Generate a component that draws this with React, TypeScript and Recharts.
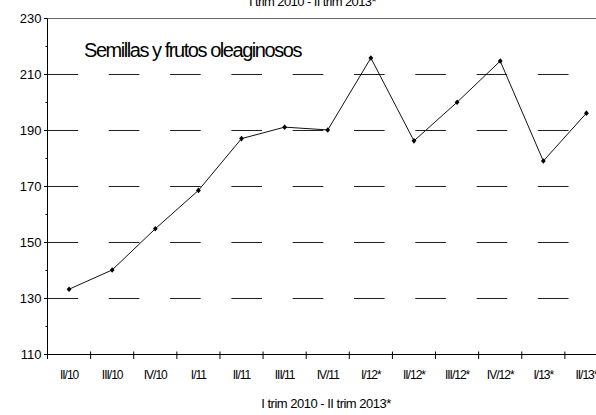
import React from 'react';
import { LineChart, Line, XAxis, YAxis, CartesianGrid, ReferenceLine, Customized } from 'recharts';

const categories = ['II/10', 'III/10', 'IV/10', 'I/11', 'II/11', 'III/11', 'IV/11', 'I/12*', 'II/12*', 'III/12*', 'IV/12*', 'I/13*', 'II/13*'];
const values = [133.3, 140.2, 154.9, 168.6, 187.1, 191.2, 190.2, 215.9, 186.3, 200.1, 214.8, 179.1, 196.2];
const yTicks = [110, 120, 130, 140, 150, 160, 170, 180, 190, 200, 210, 220, 230];
const yLabelTicks = [110, 130, 150, 170, 190, 210, 230];
const gridValues = [130, 150, 170, 190, 210, 230];
const seriesName = 'Semillas y frutos oleaginosos';
const periodTitle = 'I trim 2010 - II trim 2013*';

const data = categories.map((c, i) => ({ cat: c, value: values[i] }));

const FONT = '"Liberation Sans", Arial, sans-serif';
const CHART_W = 608;
const CHART_H = 415;
const Y_W = 47.5;
const MARGIN = { top: 18.5, right: 0, bottom: 0, left: 0 };
const PLOT_H = 336;
const X_H = CHART_H - MARGIN.top - PLOT_H;
const PLOT_W = CHART_W - Y_W;
const BAND = PLOT_W / categories.length;

const XTick = (props: any) => {
  const { x, y, payload, index } = props;
  const half = BAND / 2;
  return (
    <g>
      <line x1={x - half} x2={x - half} y1={y - 3} y2={y + 4.5} stroke="#000" strokeWidth={1} />
      {index === categories.length - 1 ? (
        <line x1={x + half} x2={x + half} y1={y - 3} y2={y + 4.5} stroke="#000" strokeWidth={1} />
      ) : null}
      <text x={x} y={y + 24.5} textAnchor="middle" fontSize={12} letterSpacing={-1} fill="#000" fontFamily={FONT}>
        {payload.value}
      </text>
    </g>
  );
};

const YTick = (props: any) => {
  const { x, y, payload } = props;
  const major = yLabelTicks.includes(payload.value);
  return (
    <g>
      <line x1={x - (major ? 3.5 : 2)} x2={x} y1={y} y2={y} stroke="#000" strokeWidth={1} />
      {major ? (
        <text x={x - 6} y={y} dy={4.6} textAnchor="end" fontSize={13} fill="#000" fontFamily={FONT}>
          {payload.value}
        </text>
      ) : null}
    </g>
  );
};

const Diamond = (props: any) => {
  const { cx, cy } = props;
  if (cx == null || cy == null) return null;
  return <path d={`M${cx},${cy - 2.8}L${cx + 2.4},${cy}L${cx},${cy + 2.8}L${cx - 2.4},${cy}Z`} fill="#000" />;
};

const Texts = () => (
  <g fontFamily={FONT} fill="#000">
    <text x={312.5} y={6} textAnchor="middle" fontSize={13} letterSpacing={-0.6}>{periodTitle}</text>
    <text x={84} y={57} fontSize={20} letterSpacing={-1.45}>{seriesName}</text>
    <text x={326} y={407.5} textAnchor="middle" fontSize={13} letterSpacing={-0.5}>{periodTitle}</text>
  </g>
);

export default function App() {
  return (
    <div style={{ position: 'absolute', left: 0, top: 0, width: 596, height: 415, overflow: 'hidden', background: '#fff' }}>
      <LineChart width={CHART_W} height={CHART_H} data={data} margin={MARGIN}>
        <ReferenceLine y={230} stroke="#666" strokeWidth={1} ifOverflow="visible" />
        <CartesianGrid
          vertical={false}
          horizontalValues={gridValues}
          stroke="#222"
          strokeWidth={1}
          strokeDasharray="30.6 30.7"
        />
        <XAxis
          dataKey="cat"
          scale="band"
          height={X_H}
          interval={0}
          tickLine={false}
          tickSize={0}
          tickMargin={0}
          axisLine={{ stroke: '#000', strokeWidth: 1 }}
          tick={<XTick />}
        />
        <YAxis
          width={Y_W}
          domain={[110, 230]}
          ticks={yTicks}
          interval={0}
          allowDataOverflow
          tickLine={false}
          tickSize={0}
          tickMargin={0}
          axisLine={{ stroke: '#000', strokeWidth: 1 }}
          tick={<YTick />}
        />
        <Line
          type="linear"
          dataKey="value"
          stroke="#111"
          strokeWidth={1}
          dot={<Diamond />}
          activeDot={false}
          isAnimationActive={false}
        />
        <Customized component={Texts} />
      </LineChart>
    </div>
  );
}
